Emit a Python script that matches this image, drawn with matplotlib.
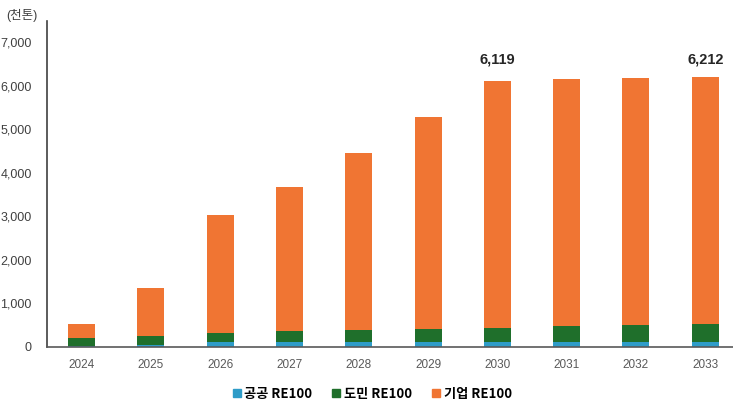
import numpy as np
import matplotlib
matplotlib.use("Agg")
import matplotlib.pyplot as plt
from matplotlib.lines import Line2D

plt.rcParams['font.family'] = ['Liberation Sans', 'Noto Sans CJK KR', 'DejaVu Sans']

years = ["2024", "2025", "2026", "2027", "2028", "2029", "2030", "2031", "2032", "2033"]
gonggong = [10, 40, 100, 100, 100, 100, 100, 100, 100, 100]
domin = [180, 210, 205, 250, 280, 305, 330, 365, 395, 420]
totals = [530, 1340, 3030, 3670, 4450, 5280, 6119, 6150, 6180, 6212]
giup = [t - a - b for t, a, b in zip(totals, gonggong, domin)]

c_blue = "#2E9CC8"
c_green = "#1F6F2B"
c_orange = "#F07533"

fig = plt.figure(figsize=(7.33, 4.03), dpi=100)
ax = fig.add_axes([0.064, 0.14, 0.936, 0.809])

x = np.arange(len(years))
w = 0.39
ax.bar(x, gonggong, w, color=c_blue)
ax.bar(x, domin, w, bottom=gonggong, color=c_green)
ax.bar(x, giup, w, bottom=np.array(gonggong) + np.array(domin), color=c_orange)

# 합계 라벨은 같은 높이에 표시
for i in [6, 9]:
    ax.text(x[i], 6600, f"{totals[i]:,}", ha="center", va="center",
            fontsize=10.5, fontweight="bold", color="#262626")

ax.set_xlim(-0.5, 9.4)
ax.set_ylim(0, 7500)
ax.set_yticks(range(0, 8000, 1000))
ax.set_yticklabels([f"{v:,}" for v in range(0, 8000, 1000)], fontsize=9, color="#404040")
ax.set_xticks(x)
ax.set_xticklabels(years, fontsize=8.5, color="#595959")
ax.tick_params(axis="both", length=0)
ax.tick_params(axis="x", pad=9)
ax.tick_params(axis="y", pad=11)

for s in ["top", "right"]:
    ax.spines[s].set_visible(False)
ax.spines["left"].set_color("#404040")
ax.spines["left"].set_linewidth(1.2)
ax.spines["bottom"].set_color("#595959")
ax.spines["bottom"].set_linewidth(1.2)

fig.text(0.008, 0.945, "(천톤)", fontsize=9, color="#404040", ha="left", va="bottom")

handles = [Line2D([], [], marker="s", linestyle="", markersize=5.5, color=c) for c in [c_blue, c_green, c_orange]]
fig.legend(handles, ["공공 RE100", "도민 RE100", "기업 RE100"], loc="center", bbox_to_anchor=(0.508, 0.023),
           ncol=3, frameon=False, handlelength=0.6, handletextpad=0.3, columnspacing=1.5,
           prop={"family": ["Noto Sans CJK KR"], "size": 9.5, "weight": "bold"})

fig.savefig("out.png", dpi=100)
